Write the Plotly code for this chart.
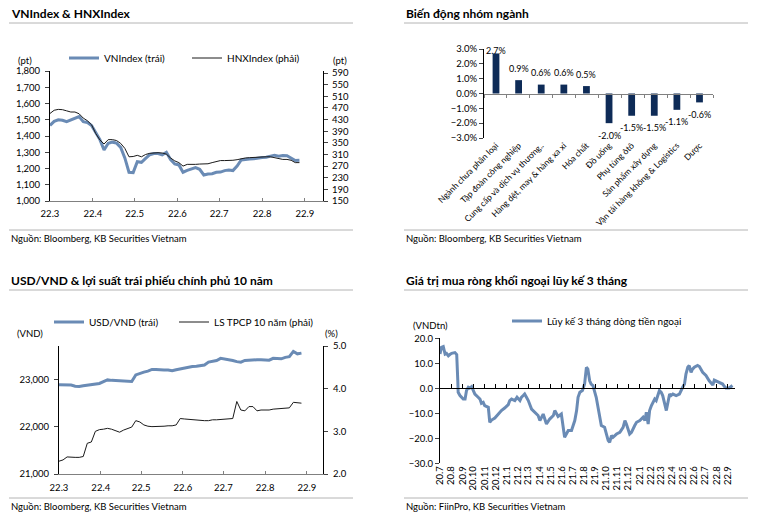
import plotly.graph_objects as go
import pandas as pd

FONT = "Lato"
BLUE = "#6a8bb5"
NAVY = "#0e2b57"
GRID_LINE = "#b4b4b4"

# ---------------- Panel 1: VNIndex & HNXIndex ----------------
p1_dates = pd.date_range("2022-03-01", periods=61, freq="3D")
vnindex = [1465, 1490, 1500, 1497, 1488, 1498, 1512, 1520, 1488, 1483,
           1465, 1420, 1378, 1314, 1355, 1362, 1356, 1330, 1265, 1177,
           1175, 1242, 1238, 1262, 1285, 1292, 1292, 1284, 1300, 1255,
           1228, 1222, 1177, 1188, 1198, 1206, 1195, 1160, 1166, 1168,
           1177, 1178, 1187, 1190, 1187, 1215, 1253, 1258, 1259, 1260,
           1265, 1268, 1269, 1276, 1282, 1276, 1280, 1278, 1265, 1249,
           1251]
hnxindex = [451, 462, 465, 464, 460, 456, 456, 450, 435, 426,
            412, 382, 360, 346, 361, 361, 358, 348, 331, 302,
            303, 307, 302, 310, 314, 316, 316, 315, 311, 298,
            288, 282, 270, 276, 275, 276, 277, 277, 278, 282,
            285, 289, 289, 289, 290, 292, 296, 298, 299, 300,
            302, 302, 302, 302, 299, 297, 293, 293, 290, 282,
            282]
p1_ticks = pd.date_range("2022-03-01", periods=7, freq="MS")
p1_ticktext = ["22.3", "22.4", "22.5", "22.6", "22.7", "22.8", "22.9"]

# ---------------- Panel 2: sector performance ----------------
sectors = ["Ngành chưa phân loại", "Tập đoàn công nghiệp", "Cung cấp và dịch vụ thương..",
           "Hàng dệt, may & hàng xa xỉ", "Hóa chất", "Đồ uống", "Phụ tùng ôtô",
           "Sản phẩm xây dựng", "Vận tải hàng không & Logistics", "Dược"]
sector_change = [2.7, 0.9, 0.6, 0.6, 0.5, -2.0, -1.5, -1.5, -1.1, -0.6]

# ---------------- Panel 3: USD/VND & 10Y bond yield ----------------
p3_dates = pd.date_range("2022-03-01", periods=61, freq="3D")
usdvnd = [22880, 22880, 22880, 22875, 22850, 22845, 22860, 22870, 22880, 22895,
          22910, 22950, 22985, 22975, 22970, 22970, 22968, 22962, 22950, 23090,
          23125, 23150, 23170, 23205, 23205, 23195, 23195, 23195, 23180, 23200,
          23220, 23240, 23255, 23268, 23275, 23280, 23300, 23360, 23385, 23395,
          23440, 23430, 23410, 23395, 23370, 23360, 23395, 23405, 23410, 23410,
          23410, 23410, 23400, 23440, 23435, 23430, 23460, 23475, 23585, 23535,
          23550]
bond10y = [2.30, 2.33, 2.40, 2.39, 2.39, 2.39, 2.41, 2.72, 2.75, 3.00,
           3.04, 3.05, 3.07, 3.05, 3.01, 2.98, 3.03, 3.07, 3.10, 3.25,
           3.22, 3.15, 3.12, 3.11, 3.11, 3.11, 3.12, 3.13, 3.13, 3.15,
           3.30, 3.29, 3.28, 3.27, 3.26, 3.25, 3.25, 3.25, 3.27, 3.27,
           3.28, 3.29, 3.30, 3.30, 3.70, 3.50, 3.48, 3.58, 3.58, 3.48,
           3.50, 3.50, 3.50, 3.52, 3.53, 3.54, 3.54, 3.55, 3.68, 3.67,
           3.66]
p3_ticks = pd.date_range("2022-03-01", periods=7, freq="MS")
p3_ticktext = ["22.3", "22.4", "22.5", "22.6", "22.7", "22.8", "22.9"]

# ---------------- Panel 4: foreign net buying, 3M cumulative ----------------
p4_dates = ["2020-07-01", "2020-07-05", "2020-07-10", "2020-07-15", "2020-07-19", "2020-07-24", "2020-07-28",
            "2020-08-02", "2020-08-11", "2020-08-16", "2020-08-19", "2020-08-20", "2020-08-25", "2020-08-30",
            "2020-09-03", "2020-09-08", "2020-09-12", "2020-09-17", "2020-09-21", "2020-09-26", "2020-09-30",
            "2020-10-05", "2020-10-14", "2020-10-19", "2020-10-23", "2020-10-28",
            "2020-11-01", "2020-11-11", "2020-11-15", "2020-11-20", "2020-11-29",
            "2020-12-08", "2020-12-17", "2020-12-26",
            "2021-01-05", "2021-01-09", "2021-01-14", "2021-01-23", "2021-01-29",
            "2021-02-06", "2021-02-10", "2021-02-15", "2021-02-19", "2021-02-24",
            "2021-03-01", "2021-03-10", "2021-03-19", "2021-03-28",
            "2021-04-02", "2021-04-11", "2021-04-20", "2021-04-29",
            "2021-05-09", "2021-05-13", "2021-05-22", "2021-05-31",
            "2021-06-09", "2021-06-19", "2021-06-28",
            "2021-07-07", "2021-07-12", "2021-07-16", "2021-07-21", "2021-07-28",
            "2021-08-03", "2021-08-08", "2021-08-12", "2021-08-17", "2021-08-21", "2021-08-26",
            "2021-09-04", "2021-09-09", "2021-09-18", "2021-09-27",
            "2021-10-07", "2021-10-11", "2021-10-16", "2021-10-20", "2021-10-30",
            "2021-11-08", "2021-11-17", "2021-11-22", "2021-11-26",
            "2021-12-05", "2021-12-10", "2021-12-19", "2021-12-24",
            "2022-01-02", "2022-01-11", "2022-01-16", "2022-01-20", "2022-01-25", "2022-01-29",
            "2022-02-03", "2022-02-12", "2022-02-16", "2022-02-21", "2022-02-25",
            "2022-03-02", "2022-03-06", "2022-03-16", "2022-03-20", "2022-03-25", "2022-03-29",
            "2022-04-03", "2022-04-12", "2022-04-21", "2022-04-30",
            "2022-05-05", "2022-05-09", "2022-05-14", "2022-05-18", "2022-05-23", "2022-05-27",
            "2022-06-01", "2022-06-10", "2022-06-15", "2022-06-24",
            "2022-07-03", "2022-07-12", "2022-07-22", "2022-07-26", "2022-07-31",
            "2022-08-09", "2022-08-18", "2022-08-23", "2022-08-27",
            "2022-09-05", "2022-09-10", "2022-09-14"]
foreign_3m = [13.7, 16.4, 16.7, 13.7, 14.0, 13.0, 13.5, 14.0, 14.3, 13.5,
              3.0, -1.6, -2.9, -3.6, -4.3, -4.3, -0.9, 0.4, 0.1, 0.7,
              -0.9, -2.3, -3.6, -4.3, -6.0, -5.6, -6.9, -7.6, -13.6, -12.7,
              -11.9, -10.3, -8.9, -7.9, -6.5, -4.9, -4.3, -4.9, -3.6, -4.9,
              -3.6, -2.9, -2.3, -3.6, -4.9, -8.3, -9.6, -10.9, -12.9, -10.3,
              -14.3, -12.3, -10.9, -8.9, -11.3, -10.3, -19.6, -16.9, -16.9, -12.9,
              -8.9, -3.6, -1.6, -0.9, 1.7, 8.4, 7.7, 3.0, 1.7, 1.1,
              -3.6, -7.6, -14.9, -15.6, -20.9, -21.6, -18.9, -19.6, -18.3, -17.6,
              -15.6, -12.9, -14.3, -18.3, -17.6, -14.9, -13.6, -12.9, -11.6, -12.9,
              -9.6, -14.3, -8.9, -6.9, -4.3, -4.9, -2.3, -0.9, -1.6, -2.9,
              -8.9, -5.6, -2.3, -2.9, -2.3, -2.9, -2.3, 0.4, 1.7, 5.7,
              8.4, 9.1, 6.4, 7.7, 8.4, 9.1, 8.7, 6.4, 5.1, 3.0,
              1.3, 3.3, 3.0, 2.4, 1.7, 0.7, 0.1, 0.1, 0.7, 1.1]
p4_ticks = pd.date_range("2020-07-01", periods=27, freq="MS")
p4_ticktext = ["20.7", "20.8", "20.9", "20.10", "20.11", "20.12",
               "21.1", "21.2", "21.3", "21.4", "21.5", "21.6", "21.7", "21.8", "21.9",
               "21.10", "21.11", "21.12",
               "22.1", "22.2", "22.3", "22.4", "22.5", "22.6", "22.7", "22.8", "22.9"]

# ---------------- layout helpers ----------------
W, H = 759, 514


def px(x):
    return x / W


def py(y):
    return 1 - y / H


tickfont = dict(family=FONT, size=9.5, color="#000")

fig = go.Figure()

# Panel 1 traces
fig.add_trace(go.Scatter(x=p1_dates, y=vnindex, name="VNIndex (trái)", mode="lines",
                         line=dict(color=BLUE, width=3), xaxis="x", yaxis="y", legend="legend"))
fig.add_trace(go.Scatter(x=p1_dates, y=hnxindex, name="HNXIndex (phải)", mode="lines",
                         line=dict(color="#1a1a1a", width=1), xaxis="x", yaxis="y2", legend="legend2"))

# Panel 2 bars
fig.add_trace(go.Bar(x=sectors, y=sector_change, marker_color=NAVY, width=0.3,
                     xaxis="x2", yaxis="y3", showlegend=False))
fig.add_trace(go.Scatter(x=[], y=[], xaxis="x5", yaxis="y3", showlegend=False))

# Panel 3 traces
fig.add_trace(go.Scatter(x=p3_dates, y=usdvnd, name="USD/VND (trái)", mode="lines",
                         line=dict(color=BLUE, width=3), xaxis="x3", yaxis="y4", legend="legend3"))
fig.add_trace(go.Scatter(x=p3_dates, y=bond10y, name="LS TPCP 10 năm (phải)", mode="lines",
                         line=dict(color="#1a1a1a", width=1), xaxis="x3", yaxis="y5", legend="legend4"))

# Panel 4 trace
fig.add_trace(go.Scatter(x=p4_dates, y=foreign_3m, name="Lũy kế 3 tháng dòng tiền ngoại", mode="lines",
                         line=dict(color=BLUE, width=3), xaxis="x4", yaxis="y6", legend="legend5"))
fig.add_trace(go.Scatter(x=[], y=[], xaxis="x6", yaxis="y6", showlegend=False))

# bar value labels
annotations = []
for s, v in zip(sectors, sector_change):
    yl = v + 0.8 if v > 0 else v - 0.8
    yl = max(min(yl, 2.92), -2.95)
    annotations.append(dict(x=s, y=yl, xref="x2", yref="y3", text=f"{v:.1f}%", showarrow=False,
                            font=dict(family=FONT, size=9, color="#000")))

# titles
title_font = dict(family=FONT, size=12, color="#000")
for txt, x, y in [("<b>VNIndex & HNXIndex</b>", 9, 13),
                  ("<b>Biến động nhóm ngành</b>", 404, 13),
                  ("<b>USD/VND & lợi suất trái phiếu chính phủ 10 năm</b>", 9, 280),
                  ("<b>Giá trị mua ròng khối ngoại lũy kế 3 tháng</b>", 404, 280)]:
    annotations.append(dict(x=px(x), y=py(y), xref="paper", yref="paper", text=txt, showarrow=False,
                            xanchor="left", yanchor="middle", font=title_font))

src_font = dict(family=FONT, size=9.5, color="#000")
for txt, x, y in [("Nguồn: Bloomberg, KB Securities Vietnam", 9, 238),
                  ("Nguồn: Bloomberg, KB Securities Vietnam", 404, 238),
                  ("Nguồn: Bloomberg, KB Securities Vietnam", 9, 506),
                  ("Nguồn: FiinPro, KB Securities Vietnam", 404, 506)]:
    annotations.append(dict(x=px(x), y=py(y), xref="paper", yref="paper", text=txt, showarrow=False,
                            xanchor="left", yanchor="middle", font=src_font))

for txt, x, y in [("(pt)", 25, 60), ("(pt)", 340, 60), ("(VND)", 30, 333), ("(%)", 331, 333),
                  ("(VNDtn)", 430, 325)]:
    annotations.append(dict(x=px(x), y=py(y), xref="paper", yref="paper", text=txt, showarrow=False,
                            xanchor="center", yanchor="middle", font=tickfont))

shapes = []
for y in [23, 230, 290, 498]:
    for x0, x1 in [(9, 353), (404, 748)]:
        shapes.append(dict(type="line", xref="paper", yref="paper", x0=px(x0), x1=px(x1),
                           y0=py(y), y1=py(y), line=dict(color=GRID_LINE, width=1)))

axis_common = dict(showgrid=False, zeroline=False, tickfont=tickfont, showline=True, automargin=False)
bare = dict(showgrid=False, zeroline=False, automargin=False)

p2_top, p2_bot = py(49), py(138)
p4_top, p4_bot = py(338.3), py(463.3)

legend_font = dict(family=FONT, size=10, color="#000")


def leg(x, y):
    return dict(x=px(x), y=py(y), xanchor="left", yanchor="middle", orientation="h",
                bgcolor="rgba(0,0,0,0)", font=legend_font, itemwidth=30)


fig.update_layout(
    template="none",
    width=W, height=H, margin=dict(l=0, r=0, t=0, b=0, autoexpand=False),
    paper_bgcolor="white", plot_bgcolor="white",
    font=dict(family=FONT, size=10, color="#000"),
    # Panel 1
    xaxis=dict(domain=[px(50), px(323)], anchor="y", type="date",
               range=["2022-03-01", "2022-09-14"], tickvals=p1_ticks, ticktext=p1_ticktext,
               ticks="inside", ticklen=3, ticklabelstandoff=4,
               linecolor="#808080", tickcolor="#808080", **axis_common),
    yaxis=dict(domain=[py(201), py(71)], anchor="x", range=[1000, 1800], dtick=100,
               tickformat=",", ticks="outside", ticklen=4, ticklabelstandoff=3,
               linecolor="#000", **axis_common),
    yaxis2=dict(overlaying="y", side="right", anchor="x", range=[150, 597],
                tickvals=[150, 190, 230, 270, 310, 350, 390, 430, 470, 510, 550, 590],
                ticks="outside", ticklen=4, ticklabelstandoff=2, linecolor="#000", **axis_common),
    # Panel 2
    xaxis2=dict(domain=[px(484), px(713)], anchor="y3", type="category", tickangle=-45,
                ticks="", showline=False, tickfont=dict(family=FONT, size=8.5, color="#000"), **bare),
    yaxis3=dict(domain=[p2_bot, p2_top], anchor="x2", range=[-3, 3], dtick=1,
                tickformat=".1f", ticksuffix="%", ticks="outside", ticklen=4, linecolor="#000",
                **axis_common),
    xaxis5=dict(overlaying="x2", anchor="free", position=(p2_bot + p2_top) / 2, range=[-0.5, 9.5],
                tickvals=[i - 0.5 for i in range(11)], ticks="outside", ticklen=3,
                showticklabels=False, showline=True, linecolor="#808080", tickcolor="#808080", **bare),
    # Panel 3
    xaxis3=dict(domain=[px(59), px(323)], anchor="y4", type="date",
                range=["2022-03-01", "2022-09-13"], tickvals=p3_ticks, ticktext=p3_ticktext,
                ticks="inside", ticklen=3, ticklabelstandoff=5,
                linecolor="#808080", tickcolor="#808080", **axis_common),
    yaxis4=dict(domain=[py(474), py(346)], anchor="x3", range=[21000, 23700],
                tickvals=[21000, 22000, 23000], tickformat=",", ticks="outside", ticklen=4,
                ticklabelstandoff=3, linecolor="#000", **axis_common),
    yaxis5=dict(overlaying="y4", side="right", anchor="x3", range=[2, 5], dtick=1,
                tickformat=".1f", ticks="outside", ticklen=4, ticklabelstandoff=3,
                linecolor="#000", **axis_common),
    # Panel 4
    xaxis4=dict(domain=[px(440), px(735)], anchor="y6", type="date",
                range=["2020-07-01", "2022-09-21"], tickvals=p4_ticks, ticktext=p4_ticktext,
                tickangle=-90, ticks="", showline=False, tickfont=tickfont, **bare),
    yaxis6=dict(domain=[p4_bot, p4_top], anchor="x4", range=[-30, 20], dtick=10,
                tickformat=".1f", ticks="outside", ticklen=4, linecolor="#000", **axis_common),
    xaxis6=dict(overlaying="x4", anchor="free", position=p4_bot + (p4_top - p4_bot) * 0.6,
                type="date", range=["2020-07-01", "2022-09-21"], tickvals=p4_ticks,
                ticks="inside", ticklen=4, showticklabels=False, showline=True,
                linecolor="#000", tickcolor="#000", **bare),
    legend=leg(64, 58),
    legend2=leg(187, 58),
    legend3=leg(49, 322),
    legend4=leg(174, 322),
    legend5=leg(507, 321),
    annotations=annotations,
    shapes=shapes,
    showlegend=True,
    hovermode=False,
)

fig.write_html("out.html", config={"displayModeBar": False},
               post_script="document.body.style.margin='0px';")
